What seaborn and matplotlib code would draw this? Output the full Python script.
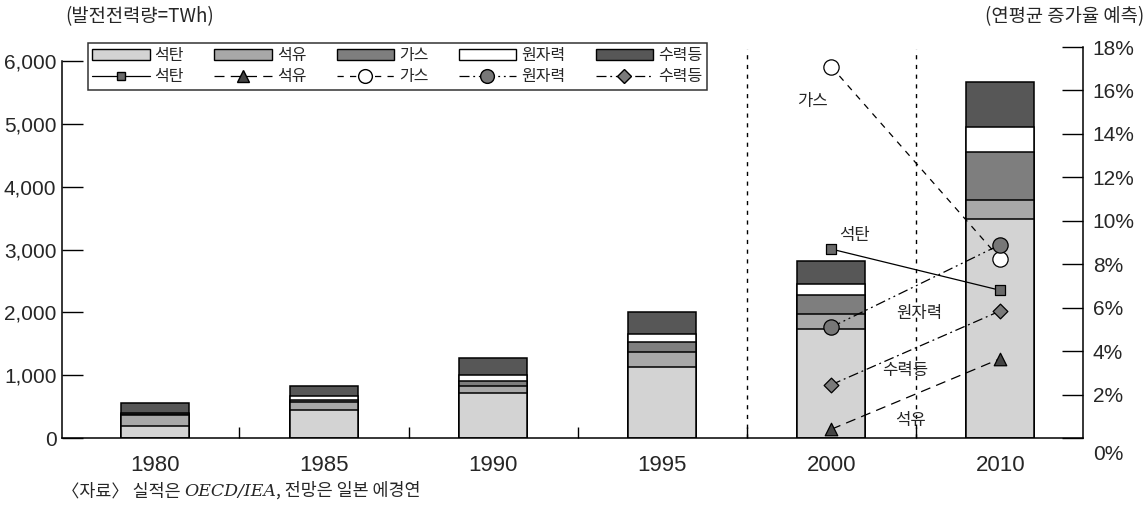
import matplotlib
matplotlib.use("Agg")
import matplotlib.pyplot as plt
import seaborn as sns
import numpy as np
from matplotlib.patches import Patch
from matplotlib.lines import Line2D

# Power generation by source (TWh), stacked bars
years = ['1980', '1985', '1990', '1995', '2000', '2010']
coal = [190, 440, 710, 1135, 1735, 3490]
oil = [175, 130, 110, 240, 240, 305]
gas = [20, 30, 90, 150, 300, 755]
nuclear = [10, 75, 90, 135, 175, 400]
hydro = [165, 155, 270, 350, 360, 715]
names = ['석탄', '석유', '가스', '원자력', '수력등']

# Average annual growth rate forecast (%), right axis
growth_years = ['2000', '2010']
coal_g = [8.7, 6.8]
oil_g = [0.4, 3.65]
gas_g = [17.1, 8.25]
nuclear_g = [5.1, 8.9]
hydro_g = [2.45, 5.85]

left_ticks = [0, 1000, 2000, 3000, 4000, 5000, 6000]
right_ticks = [0, 2, 4, 6, 8, 10, 12, 14, 16, 18]

sns.set_style("ticks")
plt.rcParams['font.family'] = ['Noto Sans CJK KR', 'DejaVu Sans']
NUM = ['Liberation Sans Narrow', 'Liberation Sans', 'DejaVu Sans']

bar_colors = ['#d3d3d3', '#a8a8a8', '#7e7e7e', '#ffffff', '#575757']
layers = [coal, oil, gas, nuclear, hydro]
cum = np.cumsum(np.array(layers), axis=0)

fig = plt.figure(figsize=(11.48, 5.12), dpi=100)
ax = fig.add_axes([0.054, 0.1445, 0.8894, 0.7637])

# draw from the top layer down so each shorter bar covers the one behind
for k in range(len(layers) - 1, -1, -1):
    sns.barplot(x=years, y=cum[k], color=bar_colors[k], saturation=1,
                width=0.4, edgecolor='black', linewidth=1.1, ax=ax)

ax.set_xlim(-0.55, 5.49)
ax.set_ylim(0, 6223)
ax.set_yticks(left_ticks)
ax.set_yticklabels(['{:,}'.format(v) for v in left_ticks], family=NUM,
                   fontsize=15)
ax.set_xticks(range(len(years)))
ax.set_xticklabels(years, family=NUM, fontsize=16)
ax.set_xticks(np.arange(0.5, len(years) - 1, 1.0), minor=True)
ax.tick_params(axis='x', which='major', length=0, pad=12)
ax.tick_params(axis='x', which='minor', direction='in', length=8,
               width=1, color='black')
ax.tick_params(axis='y', direction='in', length=15, width=1, pad=4,
               color='black')
ax.spines['top'].set_visible(False)
ax.spines['right'].set_visible(False)
ax.spines['left'].set_bounds(0, 6000)
for s in ['left', 'bottom']:
    ax.spines[s].set_color('black')
    ax.spines[s].set_linewidth(1.1)
ax.set_xlabel('')
ax.set_ylabel('')

# dashed separators between actual / forecast periods
for xv in [3.5, 4.5]:
    ax.axvline(xv, ymin=0, ymax=0.995, color='black', lw=1,
               ls=(0, (3, 4)))

ax2 = ax.twinx()
ax2.set_ylim(0, 18)
ax2.set_yticks(right_ticks)
ax2.set_yticklabels([''] + ['{}%'.format(v) for v in right_ticks[1:]],
                    family=NUM, fontsize=15)
ax2.tick_params(axis='y', direction='in', length=15, width=1, pad=7,
                color='black')
for s in ['top', 'left', 'bottom']:
    ax2.spines[s].set_visible(False)
ax2.spines['right'].set_color('black')
ax2.spines['right'].set_linewidth(1.1)
ax2.annotate('0%', xy=(1, 0), xycoords=('axes fraction', 'data'),
             xytext=(7, -12), textcoords='offset points', ha='left',
             va='center', family=NUM, fontsize=15)

gx = [years.index(y) for y in growth_years]
series = [
    (coal_g, 's', '#6a6a6a', '-', 6.5),
    (oil_g, '^', '#444444', (0, (8, 5)), 9),
    (gas_g, 'o', 'white', (0, (5, 5)), 11),
    (nuclear_g, 'o', '#777777', (0, (8, 3, 1.5, 3, 1.5, 3)), 11),
    (hydro_g, 'D', '#7a7a7a', (0, (8, 3, 1.5, 3)), 7.5),
]
handles = []
for k, (vals, mk, fc, ls, ms) in enumerate(series):
    ax2.plot(gx, vals, color='black', lw=0.9, ls=ls, zorder=3)
    sns.scatterplot(x=gx, y=vals, marker=mk, s=ms ** 2, color=fc,
                    edgecolor='black', linewidth=0.9, zorder=4, ax=ax2)
    handles.append(Patch(facecolor=bar_colors[k], edgecolor='black',
                         linewidth=1, label=names[k]))
    handles.append(Line2D([0], [0], color='black', lw=0.9, ls=ls,
                          marker=mk, markersize=ms * 0.9,
                          markerfacecolor=fc, markeredgecolor='black',
                          label=names[k]))

# in-chart series labels
label_pos = {'가스': (3.89, 15.5), '석탄': (4.14, 9.3),
             '원자력': (4.52, 5.75), '수력등': (4.44, 3.1),
             '석유': (4.47, 0.8)}
for txt, (lx, ly) in label_pos.items():
    ax2.text(lx, ly, txt, ha='center', va='center', fontsize=12)

leg = ax2.legend(handles=handles, ncol=5, loc='upper left',
                 bbox_to_anchor=(0.025, 1.011), borderaxespad=0,
                 fontsize=11.5, handlelength=3.6, handletextpad=0.3,
                 columnspacing=1.9, labelspacing=0.25, frameon=True,
                 fancybox=False, edgecolor='black', borderpad=0.3)
leg.get_frame().set_linewidth(1.1)
leg.set_zorder(10)

fig.text(0.0566, 0.967, '(발전전력량=TWh)', ha='left', va='center',
         fontsize=13.5)
fig.text(0.997, 0.967, '(연평균 증가율 예측)', ha='right', va='center',
         fontsize=13.5)

src1 = fig.text(0.054, 0.041, '〈자료〉 실적은 ', ha='left', va='center',
                fontsize=12.5)
src2 = ax.annotate('OECD/IEA', xy=(1, 0), xycoords=src1, va='bottom',
                   ha='left', fontsize=12.5, style='italic',
                   family=['DejaVu Serif'], annotation_clip=False)
ax.annotate(', 전망은 일본 에경연', xy=(1, 0), xycoords=src2, va='bottom',
            ha='left', fontsize=12.5, annotation_clip=False)

fig.savefig('out.png', dpi=100)
